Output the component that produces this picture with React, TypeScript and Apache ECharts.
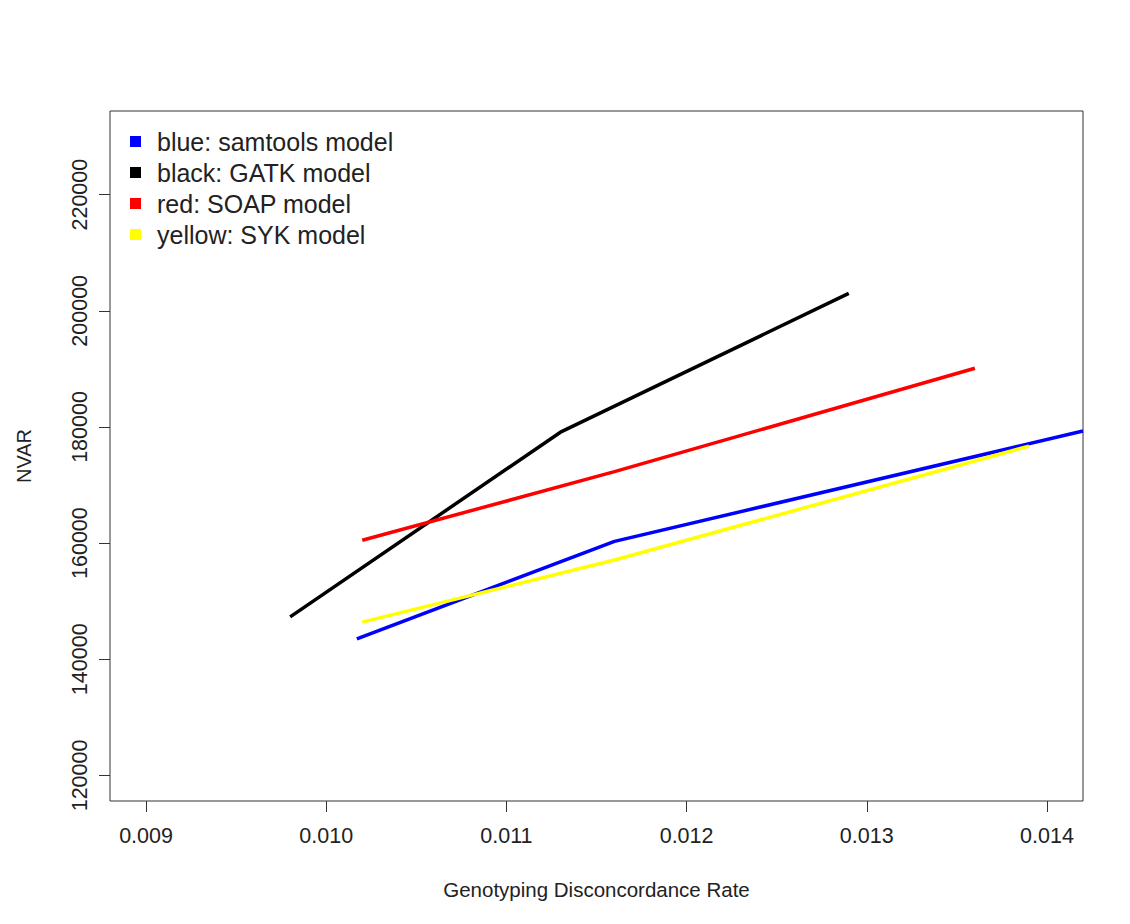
import React, { useEffect, useRef } from "react";
import * as echarts from "echarts";

const seriesNames = [
  "blue: samtools model",
  "black: GATK model",
  "red: SOAP model",
  "yellow: SYK model",
];
const seriesColors = ["#0000ff", "#000000", "#ff0000", "#ffff00"];

const blueX = [0.01017, 0.0116, 0.0142];
const blueY = [143500, 160300, 179300];
const blackX = [0.0098, 0.0113, 0.0129];
const blackY = [147300, 179100, 203000];
const redX = [0.0102, 0.0116, 0.0136];
const redY = [160500, 172300, 190100];
const yellowX = [0.0102, 0.0116, 0.0139];
const yellowY = [146400, 157100, 176700];

const xTicks = [0.009, 0.01, 0.011, 0.012, 0.013, 0.014];
const yTicks = [120000, 140000, 160000, 180000, 200000, 220000];

const xLabel = "Genotyping Disconcordance Rate";
const yLabel = "NVAR";

const FONT = "'Liberation Sans', Arial, Helvetica, sans-serif";

export default function App() {
  const ref = useRef<HTMLDivElement>(null);
  useEffect(() => {
    if (!ref.current) return;
    const chart = echarts.init(ref.current, undefined, { renderer: "svg" });
    const xs = [blueX, blackX, redX, yellowX];
    const ys = [blueY, blackY, redY, yellowY];
    chart.setOption({
      animation: false,
      backgroundColor: "#ffffff",
      textStyle: { fontFamily: FONT },
      grid: {
        left: 110,
        right: 47,
        top: 111,
        bottom: 123,
        show: true,
        borderColor: "#333333",
        borderWidth: 1,
        backgroundColor: "#ffffff",
      },
      legend: {
        orient: "vertical",
        left: 125,
        top: 124,
        icon: "rect",
        itemWidth: 11,
        itemHeight: 11,
        itemGap: 6,
        selectedMode: false,
        textStyle: {
          fontFamily: FONT,
          fontSize: 25,
          color: "#222222",
          lineHeight: 25,
          padding: [0, 0, 0, 11],
        },
        data: seriesNames,
      },
      xAxis: {
        type: "value",
        min: 0.0088,
        max: 0.0142,
        name: xLabel,
        nameLocation: "middle",
        nameGap: 78,
        nameTextStyle: { fontFamily: FONT, fontSize: 20.5, color: "#222222" },
        axisLine: { show: false },
        splitLine: { show: false },
        axisTick: {
          show: true,
          length: 11,
          lineStyle: { color: "#333333" },
          customValues: xTicks,
        },
        axisLabel: {
          fontFamily: FONT,
          fontSize: 21.5,
          color: "#222222",
          margin: 24,
          customValues: xTicks,
          formatter: (v: number) => v.toFixed(3),
        },
      },
      yAxis: {
        type: "value",
        min: 115600,
        max: 234400,
        name: yLabel,
        nameLocation: "middle",
        nameGap: 76,
        nameTextStyle: { fontFamily: FONT, fontSize: 20, color: "#222222" },
        axisLine: { show: false },
        splitLine: { show: false },
        axisTick: {
          show: true,
          length: 11,
          lineStyle: { color: "#333333" },
          customValues: yTicks,
        },
        axisLabel: {
          fontFamily: FONT,
          fontSize: 21.5,
          color: "#222222",
          margin: 19,
          rotate: 90,
          customValues: yTicks,
          formatter: (v: number) => String(v),
        },
      },
      series: seriesNames.map((name, i) => ({
        name,
        type: "line",
        data: xs[i].map((x, j) => [x, ys[i][j]]),
        showSymbol: false,
        symbol: "none",
        clip: true,
        lineStyle: { color: seriesColors[i], width: 3.5 },
        itemStyle: { color: seriesColors[i] },
        z: 2,
      })),
    });
    return () => chart.dispose();
  }, []);
  return (
    <div
      ref={ref}
      style={{
        position: "absolute",
        left: 0,
        top: 0,
        width: 1130,
        height: 924,
        background: "#ffffff",
      }}
    />
  );
}
